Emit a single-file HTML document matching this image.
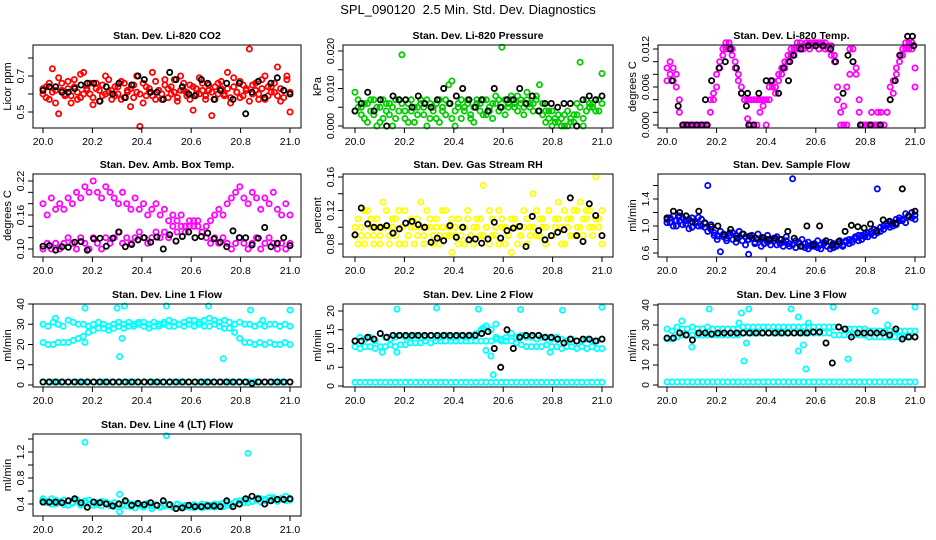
<!DOCTYPE html>
<html><head><meta charset="utf-8"><style>
html,body{margin:0;padding:0;background:#fff;}
svg{display:block;font-family:"Liberation Sans",sans-serif;}
</style></head><body>
<svg id="chart" width="936" height="540" viewBox="0 0 936 540" xmlns="http://www.w3.org/2000/svg">
<rect width="936" height="540" fill="#fff"/>
<text x="468" y="14" font-size="13" text-anchor="middle" style="white-space:pre">SPL_090120  2.5 Min. Std. Dev. Diagnostics</text>
</svg>
<script>
// ---- data ----
const xTicks = [20.0, 20.2, 20.4, 20.6, 20.8, 21.0];
const xTickLabels = ["20.0","20.2","20.4","20.6","20.8","21.0"];

const co2RedA = [0.60,0.64,0.57,0.74,0.62,0.49,0.66,0.59,0.63,0.55,0.68,0.61,0.58,0.72,0.63,0.60,0.54,0.66,0.62,0.59,0.70,0.61,0.57,0.64,0.60,0.67,0.58,0.62,0.53,0.65,0.61,0.42,0.66,0.59,0.63,0.72,0.57,0.62,0.60,0.68,0.58,0.64,0.61,0.56,0.70,0.62,0.59,0.65,0.51,0.63,0.60,0.66,0.57,0.62,0.48,0.64,0.60,0.67,0.59,0.63,0.55,0.69,0.61,0.58,0.65,0.62,0.85,0.60,0.66,0.57,0.63,0.70,0.59,0.64,0.61,0.75,0.56,0.62,0.68,0.50];
const co2RedB = [0.63,0.58,0.66,0.61,0.55,0.69,0.62,0.60,0.67,0.59,0.64,0.57,0.71,0.60,0.62,0.66,0.58,0.63,0.56,0.65,0.60,0.68,0.62,0.59,0.64,0.57,0.66,0.61,0.63,0.58,0.70,0.60,0.55,0.64,0.61,0.59,0.67,0.62,0.57,0.65,0.63,0.60,0.68,0.58,0.62,0.66,0.61,0.57,0.64,0.60,0.69,0.62,0.59,0.65,0.61,0.57,0.66,0.63,0.60,0.72,0.58,0.64,0.61,0.67,0.59,0.63,0.56,0.65,0.62,0.60,0.68,0.57,0.64,0.61,0.66,0.59,0.63,0.58,0.70,0.61];
const co2Black = [0.62,0.64,0.64,0.61,0.61,0.63,0.65,0.66,0.66,0.56,0.64,0.60,0.66,0.58,0.65,0.70,0.68,0.61,0.61,0.57,0.72,0.68,0.64,0.60,0.59,0.68,0.66,0.57,0.62,0.66,0.57,0.66,0.49,0.61,0.67,0.58,0.66,0.69,0.62,0.60];

const presGreenA = [.009,.005,.003,.006,.001,.004,.007,.000,.005,.002,.006,.003,.000,.007,.004,.019,.002,.006,.004,.001,.005,.007,.003,.000,.006,.004,.002,.007,.005,.003,.011,.012,.004,.006,.002,.005,.007,.003,.001,.006,.004,.007,.003,.005,.006,.008,.004,.021,.007,.005,.008,.006,.004,.007,.005,.009,.006,.004,.007,.011,.003,.001,.004,.000,.002,.001,.000,.003,.000,.002,.001,.003,.017,.000,.004,.006,.005,.007,.004,.014];
const presGreenB = [.004,.007,.005,.002,.006,.007,.003,.005,.001,.007,.004,.006,.005,.002,.007,.006,.004,.001,.007,.005,.003,.006,.005,.007,.002,.005,.006,.001,.004,.007,.006,.002,.000,.005,.007,.004,.006,.002,.005,.007,.006,.003,.007,.004,.002,.006,.007,.005,.003,.006,.007,.005,.008,.006,.003,.007,.005,.006,.008,.004,.006,.004,.002,.004,.001,.003,.002,.000,.004,.001,.003,.006,.005,.002,.007,.005,.006,.004,.007,.006];
const presBlack = [.004,.006,.009,.004,.007,.000,.008,.007,.007,.005,.008,.006,.005,.007,.010,.006,.008,.010,.007,.005,.007,.004,.010,.005,.007,.007,.010,.006,.008,.004,.006,.006,.005,.006,.006,.000,.007,.008,.007,.008];

const tempMagA = [.009,.010,.007,.008,.002,0,0,0,0,0,0,0,0,0,.002,.005,.006,.009,.011,.012,.013,.012,.010,.008,.006,.004,.001,0,.004,0,.004,.003,0,.004,.006,.005,.007,.008,.009,.010,.011,.011,.012,.012,.0125,.013,.013,.013,.013,.013,.0125,.013,.012,.0125,.011,.006,.002,.003,0,.008,.012,.009,.004,0,0,0,0,0,.002,0,0,.002,.004,.007,.008,.010,.012,.012,.013,.013,.009];
const tempMagB = [.007,.008,.009,.006,.004,0,0,0,0,0,0,0,0,0,.004,.004,.008,.010,.012,.013,.012,.011,.009,.007,.005,.004,.004,.004,0,.004,.002,.004,.004,.006,.007,.006,.008,.009,.010,.011,.012,.012,.013,.013,.012,.0125,.012,.0125,.013,.012,.013,.012,.0125,.011,.010,.004,0,0,.006,.012,.010,.008,.002,0,0,0,.002,0,0,.002,0,.002,.006,.005,.009,.011,.011,.013,.012,.012,.006];
const tempBlackX = [20.02,20.045,20.065,20.08,20.1,20.12,20.14,20.155,20.16,20.18,20.21,20.235,20.255,20.28,20.30,20.32,20.325,20.33,20.35,20.37,20.40,20.42,20.45,20.47,20.49,20.495,20.51,20.54,20.57,20.6,20.63,20.66,20.68,20.71,20.73,20.75,20.78,20.82,20.86,20.9,20.92,20.94,20.97,20.99,20.995];
const tempBlack = [.007,.003,0,0,0,0,0,.004,0,.007,.009,.010,.012,.009,.005,.003,.005,0,0,.005,.007,.007,.005,.009,.007,.010,.011,.012,.0125,.0125,.0125,.012,.010,.005,.011,.010,0,0,0,.004,.007,.011,.014,.014,.0125];

const boxUpper = [0.18,0.16,0.19,0.17,0.18,0.17,0.19,0.18,0.20,0.19,0.21,0.20,0.22,0.20,0.19,0.21,0.20,0.19,0.18,0.20,0.18,0.17,0.19,0.17,0.18,0.16,0.17,0.18,0.16,0.17,0.15,0.16,0.15,0.16,0.14,0.15,0.14,0.15,0.13,0.14,0.15,0.16,0.17,0.16,0.18,0.19,0.20,0.21,0.19,0.18,0.20,0.19,0.17,0.19,0.18,0.20,0.17,0.16,0.18,0.16];
const boxLower = [0.10,0.11,0.10,0.11,0.10,0.11,0.12,0.11,0.10,0.12,0.11,0.10,0.12,0.11,0.10,0.12,0.11,0.12,0.13,0.11,0.12,0.11,0.12,0.13,0.12,0.11,0.12,0.13,0.12,0.13,0.12,0.14,0.13,0.14,0.13,0.14,0.15,0.14,0.13,0.12,0.11,0.12,0.11,0.12,0.11,0.10,0.11,0.12,0.11,0.10,0.11,0.12,0.10,0.11,0.12,0.11,0.10,0.11,0.10,0.11];
const boxBlack = [.105,.106,.098,.104,.103,.112,.113,.098,.118,.119,.105,.119,.130,.104,.108,.116,.120,.112,.121,.100,.125,.114,.122,.130,.120,.122,.128,.118,.112,.104,.132,.120,.120,.107,.119,.138,.104,.110,.120,.106];

const rhYellowA = [.09,.08,.10,.12,.09,.11,.08,.10,.09,.13,.10,.08,.11,.09,.12,.10,.08,.09,.11,.10,.09,.13,.08,.10,.11,.09,.10,.08,.12,.09,.10,.07,.09,.11,.10,.08,.12,.09,.10,.11,.09,.15,.10,.08,.11,.09,.12,.10,.08,.09,.07,.11,.10,.09,.12,.08,.10,.14,.09,.11,.10,.08,.12,.09,.11,.13,.10,.08,.11,.09,.12,.10,.13,.09,.11,.12,.10,.16,.11,.08];
const rhYellowB = [.10,.11,.09,.08,.12,.10,.09,.11,.08,.10,.12,.09,.10,.11,.08,.10,.12,.09,.10,.08,.11,.10,.09,.12,.10,.08,.11,.09,.10,.12,.09,.11,.10,.08,.09,.10,.11,.09,.08,.10,.11,.09,.10,.12,.09,.10,.08,.11,.10,.09,.11,.10,.08,.09,.10,.11,.09,.10,.12,.09,.11,.10,.12,.09,.10,.11,.08,.12,.10,.11,.09,.12,.10,.11,.12,.10,.09,.11,.10,.12];
const rhBlack = [.091,.123,.104,.100,.100,.102,.093,.098,.105,.107,.103,.100,.082,.087,.084,.102,.088,.100,.085,.086,.081,.086,.106,.087,.096,.099,.101,.077,.113,.096,.085,.090,.094,.097,.135,.090,.083,.128,.114,.090];

const flowBlueA = [1.10,1.05,1.15,1.00,1.08,1.12,1.03,1.10,0.98,1.06,1.13,1.00,1.05,1.60,0.95,0.90,0.85,0.62,0.88,0.82,0.90,0.80,0.86,0.92,0.78,0.84,0.58,0.82,0.76,0.88,0.80,0.74,0.86,0.78,0.82,0.72,0.80,0.76,0.84,0.70,1.70,0.78,0.74,0.80,0.68,0.76,0.72,0.70,0.78,0.66,0.74,0.70,0.76,0.68,0.72,0.74,0.70,0.78,0.74,0.80,0.82,0.78,0.86,0.84,0.90,0.88,0.86,1.55,0.92,0.95,1.00,0.98,1.05,1.02,1.08,1.10,1.05,1.15,1.12,1.10];
const flowBlueB = [1.05,1.12,1.00,1.08,1.15,1.02,1.08,0.96,1.12,1.04,1.00,1.10,0.98,0.92,1.02,0.86,0.80,0.92,0.84,0.78,0.86,0.90,0.76,0.84,0.88,0.72,0.80,0.86,0.74,0.80,0.70,0.82,0.76,0.72,0.78,0.84,0.74,0.70,0.78,0.74,0.72,0.68,0.76,0.70,0.74,0.66,0.70,0.74,0.68,0.72,0.76,0.70,0.66,0.74,0.70,0.78,0.72,0.76,0.80,0.76,0.84,0.86,0.80,0.88,0.84,0.92,0.95,0.90,0.98,1.00,1.04,1.06,1.00,1.10,1.12,1.08,1.18,1.14,1.20,1.16];
const flowBlack = [1.12,1.22,1.20,1.15,1.06,1.22,1.04,0.99,1.00,0.87,0.95,0.82,0.88,0.85,0.82,0.83,0.80,0.82,0.80,0.92,0.82,0.70,1.00,0.72,1.00,0.78,0.72,0.77,0.92,1.01,0.99,0.97,1.03,0.93,1.09,1.07,1.04,1.55,1.15,1.22];

const l1Upper = [30,29,31,30,29,32,31,30,30,29,30,31,30,29,30,31,30,31,30,31,31,30,31,30,31,32,31,30,31,32,32,31,32,33,32,31,32,31,30,31,30,30,29,30,29,30,30,29,30,29];
const l1Lower = [21,20,20,21,21,21,22,23,24,26,27,28,28,27,28,29,28,29,29,30,29,28,29,29,30,29,29,30,29,30,29,30,29,29,30,29,28,28,26,23,21,21,20,21,20,21,20,20,21,20];
const l1Base = [1.5,1.5,1.5,1.5,1.5,1.5,1.5,1.5,1.5,1.5,1.5,1.5,1.5,1.5,1.5,1.5,1.5,1.5,1.5,1.5,1.5,1.5,1.5,1.5,1.5,1.5,1.5,1.5,1.5,1.5,1.5,1.5,1.5,1.5,1.5,1.5,1.5,1.5,1.5,1.5,1.5,1.5,1.5,1.5,1.5,1.5,1.5,1.5,1.5,1.5];
const l1OutX = [20.05,20.17,20.17,20.30,20.31,20.32,20.33,20.50,20.67,20.73,20.84,20.89,21.0];
const l1OutY = [33,38,21,38,14,23,39,39,39,13,37,32,37];
const l1Black = [1.5,1.5,1.5,1.5,1.5,1.5,1.5,1.5,1.5,1.5,1.5,1.5,1.5,1.5,1.5,1.5,1.5,1.5,1.5,1.5,1.5,1.5,1.5,1.5,1.5,1.5,1.5,1.5,1.5,1.5,1.5,1.5,1.5,0.8,1.5,1.5,1.5,1.5,1.5,1.5];

const l2Upper = [12,13,12.5,13,12,14,13,12.5,13,13.5,13,13,13.5,13,13,13.5,13,13,13.5,13,13,13.5,13,13.5,14,15,16,15,13,12,13,14,13,13.5,13,13,12.5,13,13,12.5,13,12.5,12,12.5,12,12,12.5,12,12,12.5];
const l2Lower = [10.5,10,10.5,10.5,10,10.5,10.5,11,10.5,11,11,11.5,11.5,11.5,12,11.5,12,12,12,12,12,12,12,12,12,12,12,12,12.5,12.5,12,12,11.5,11,10.5,10.5,10.5,10.5,11,10.5,10.5,10,10.5,10.5,10,10.5,10,10.5,10,10];
const l2Base = [1,1,1,1,1,1,1,1,1,1,1,1,1,1,1,1,1,1,1,1,1,1,1,1,1,1,1,1,1,1,1,1,1,1,1,1,1,1,1,1,1,1,1,1,1,1,1,1,1,1];
const l2OutX = [20.17,20.17,20.11,20.33,20.50,20.52,20.53,20.55,20.56,20.57,20.67,20.79,20.84,21.0];
const l2OutY = [20.5,9,9,20.8,20.5,15.5,9.5,8,3,16.5,20.4,9,20.2,21];
const l2Black = [12,12,13,12.5,14,13,13.5,13.5,13.5,13.5,13.5,13.5,13.5,13.5,13.5,13.5,13.5,13.5,13.5,13.5,14,14.5,10,5,15,10,13,13.5,13.5,13.5,13,13,12.5,11.5,12.5,12,12.5,12.5,12,12.5];

const l3Upper = [28,27,29,28,28,29,28,28,29,28,28,28,28,28,28,29,29,29,29,29,29,29,29,29,29,29,29,29,29,29,29,29,29,29,29,28,28,28,28,28,27,27,27,27,27,27,27,27,27,27];
const l3Lower = [23,23,24,25,25,25,25,25,25,25,25,25,25,25,25,26,26,26,26,26,26,26,26,26,26,26,26,26,26,26,26,26,26,25,25,25,25,25,25,25,24,24,24,24,24,24,24,24,24,24];
const l3Base = [1.5,1.5,1.5,1.5,1.5,1.5,1.5,1.5,1.5,1.5,1.5,1.5,1.5,1.5,1.5,1.5,1.5,1.5,1.5,1.5,1.5,1.5,1.5,1.5,1.5,1.5,1.5,1.5,1.5,1.5,1.5,1.5,1.5,1.5,1.5,1.5,1.5,1.5,1.5,1.5,1.5,1.5,1.5,1.5,1.5,1.5,1.5,1.5,1.5,1.5];
const l3OutX = [20.06,20.10,20.17,20.29,20.30,20.31,20.32,20.33,20.50,20.53,20.53,20.55,20.56,20.57,20.67,20.73,20.84,20.89,21.0];
const l3OutY = [32,19,38,31,36,12,21,38,38,34,17,20,8,31,39,13,37,30,39];
const l3Black = [23.5,23.5,26,25,22.5,26,26,25.5,26,26,26,26,26,26,26,26,26,26,26,26,26,26,26,26.5,26.5,21,11,29,28,24,26,26,26,26,26,25,28,23,24,24];

const l4CyanA = [.45,.42,.48,.40,.44,.46,.38,.43,.47,.41,.45,.40,.43,.39,.44,.41,.37,.42,.40,.38,.43,.36,.40,.38,.35,.41,.37,.39,.36,.40,.38,.35,.39,.37,.36,.38,.34,.37,.40,.36,.38,.35,.39,.41,.38,.40,.43,.45,.42,.47,.44,.46,.48,.45,.50,.47,.46,.49,.45,.48];
const l4CyanB = [.48,.44,.40,.46,.42,.39,.45,.41,.44,.38,.42,.46,.38,.42,.37,.43,.40,.36,.41,.39,.37,.40,.34,.39,.37,.40,.33,.38,.35,.37,.39,.36,.40,.34,.38,.35,.39,.37,.34,.39,.36,.40,.37,.36,.42,.39,.44,.40,.46,.42,.44,.49,.43,.47,.45,.50,.44,.48,.52,.46];
const l4OutX = [20.17,20.50,20.83,20.31,20.31];
const l4OutY = [1.35,1.45,1.18,0.55,0.28];
const l4Black = [.43,.43,.43,.42,.45,.48,.42,.35,.43,.42,.40,.37,.40,.45,.38,.41,.39,.42,.38,.45,.39,.33,.34,.38,.36,.36,.37,.37,.36,.45,.36,.40,.48,.52,.48,.40,.45,.47,.47,.48];

// ---- layout ----
const NS = "http://www.w3.org/2000/svg";
const svg = document.getElementById("chart");
const cols = [{L:33,R:301,x0:43,x1:290},{L:343,R:613,x0:355,x1:602},{L:658,R:925,x0:667,x1:915}];
const rows = [{T:45,B:128},{T:174,B:257},{T:304,B:387},{T:434,B:516}];
function uni(n){const a=[];for(let i=0;i<n;i++)a.push(20+i/(n-1));return a;}
function mk(tag,attrs,parent){const e=document.createElementNS(NS,tag);for(const k in attrs)e.setAttribute(k,attrs[k]);(parent||svg).appendChild(e);return e;}

const panels = [
 {key:"co2",title:"Stan. Dev. Li-820 CO2",ylab:"Licor ppm",c:0,r:0,v0:0.5,p0:112,v1:0.7,p1:76,ticks:[0.5,0.6,0.7,0.8],labs:{"0.5":"0.5","0.7":"0.7"},
  series:[["#ff0000",null,co2RedA],["#ff0000",null,co2RedB],["#000",null,co2Black]]},
 {key:"pressure",title:"Stan. Dev. Li-820 Pressure",ylab:"kPa",c:1,r:0,v0:0,p0:126,v1:0.02,p1:51,ticks:[0,0.005,0.01,0.015,0.02],labs:{"0":"0.000","0.01":"0.010","0.02":"0.020"},
  series:[["#00cd00",null,presGreenA],["#00cd00",null,presGreenB],["#000",null,presBlack]]},
 {key:"temp",title:"Stan. Dev. Li-820 Temp.",ylab:"degrees C",c:2,r:0,v0:0,p0:125,v1:0.012,p1:49,ticks:[0,0.002,0.004,0.006,0.008,0.01,0.012],labs:{"0":"0.000","0.006":"0.006","0.012":"0.012"},
  series:[["#ff00ff",null,tempMagA],["#ff00ff",null,tempMagB],["#000",tempBlackX,tempBlack]]},
 {key:"boxtemp",title:"Stan. Dev. Amb. Box Temp.",ylab:"degrees C",c:0,r:1,v0:0.10,p0:249,v1:0.22,p1:181,ticks:[0.10,0.12,0.14,0.16,0.18,0.20,0.22],labs:{"0.1":"0.10","0.16":"0.16","0.22":"0.22"},
  series:[["#ff00ff",null,boxUpper],["#ff00ff",null,boxLower],["#000",null,boxBlack]]},
 {key:"rh",title:"Stan. Dev. Gas Stream RH",ylab:"percent",c:1,r:1,v0:0.08,p0:244,v1:0.16,p1:177,ticks:[0.08,0.10,0.12,0.14,0.16],labs:{"0.08":"0.08","0.12":"0.12","0.16":"0.16"},
  series:[["#ffff00",null,rhYellowA],["#ffff00",null,rhYellowB],["#000",null,rhBlack]]},
 {key:"sampleflow",title:"Stan. Dev. Sample Flow",ylab:"ml/min",c:2,r:1,v0:0.6,p0:253,v1:1.4,p1:199,ticks:[0.6,0.8,1.0,1.2,1.4,1.6],labs:{"0.6":"0.6","1":"1.0","1.4":"1.4"},
  series:[["#0000ff",null,flowBlueA],["#0000ff",null,flowBlueB],["#000",null,flowBlack]]},
 {key:"line1",title:"Stan. Dev. Line 1 Flow",ylab:"ml/min",c:0,r:2,v0:0,p0:385,v1:40,p1:304,ticks:[0,10,20,30,40],labs:{"0":"0","10":"10","20":"20","30":"30","40":"40"},
  series:[["#00ffff",null,l1Upper],["#00ffff",null,l1Lower],["#00ffff",null,l1Base],["#00ffff",l1OutX,l1OutY],["#000",null,l1Black]]},
 {key:"line2",title:"Stan. Dev. Line 2 Flow",ylab:"ml/min",c:1,r:2,v0:0,p0:386,v1:20,p1:311,ticks:[0,5,10,15,20],labs:{"0":"0","5":"5","10":"10","15":"15","20":"20"},
  series:[["#00ffff",null,l2Upper],["#00ffff",null,l2Lower],["#00ffff",null,l2Base],["#00ffff",l2OutX,l2OutY],["#000",null,l2Black]]},
 {key:"line3",title:"Stan. Dev. Line 3 Flow",ylab:"ml/min",c:2,r:2,v0:0,p0:385,v1:40,p1:305,ticks:[0,10,20,30,40],labs:{"0":"0","10":"10","20":"20","30":"30","40":"40"},
  series:[["#00ffff",null,l3Upper],["#00ffff",null,l3Lower],["#00ffff",null,l3Base],["#00ffff",l3OutX,l3OutY],["#000",null,l3Black]]},
 {key:"line4",title:"Stan. Dev. Line 4 (LT) Flow",ylab:"ml/min",c:0,r:3,v0:0.4,p0:504,v1:1.2,p1:452,ticks:[0.4,0.6,0.8,1.0,1.2,1.4],labs:{"0.4":"0.4","0.8":"0.8","1.2":"1.2"},
  series:[["#00ffff",null,l4CyanA],["#00ffff",null,l4CyanB],["#00ffff",l4OutX,l4OutY],["#000",null,l4Black]]}
];

panels.forEach(p=>{
  const C=cols[p.c], R=rows[p.r];
  const g=mk("g",{});
  
  
  const xs=v=>C.x0+(v-20)*(C.x1-C.x0);
  const ys=v=>p.p0+(v-p.v0)*(p.p1-p.p0)/(p.v1-p.v0);
  const t=mk("text",{x:(C.L+C.R)/2,y:R.T-6,"font-size":"10.5","font-weight":"bold","text-anchor":"middle"},g);
  t.textContent=p.title;
  
  
  const pg=mk("g",{fill:"none","stroke-width":"1.8"},g);
  
  
  p.series.forEach(s=>{
    const col=s[0], yv=s[2], xv=s[1]||uni(yv.length);
    yv.forEach((v,i)=>{
      const c=mk("circle",{cx:xs(xv[i]).toFixed(1),cy:ys(v).toFixed(1),r:"2.6",stroke:col,"vector-effect":"non-scaling-stroke"},pg);
      
      
    });
  });
  const fr=mk("rect",{x:C.L,y:R.T,width:C.R-C.L,height:R.B-R.T,fill:"none",stroke:"#000","stroke-width":"1"},g);
  
  
  xTicks.forEach((v,i)=>{
    mk("line",{x1:xs(v),x2:xs(v),y1:R.B,y2:R.B+5,stroke:"#000"},g);
    const tl=mk("text",{x:xs(v),y:R.B+17,"font-size":"10.5","text-anchor":"middle"},g);
    tl.textContent=xTickLabels[i];
    
    
  });
  p.ticks.forEach(v=>{
    const y=ys(v); if(y<R.T-1||y>R.B+1) return;
    mk("line",{x1:C.L-5,x2:C.L,y1:y,y2:y,stroke:"#000"},g);
    const key=String(+v.toFixed(4));
    if(p.labs[key]!==undefined){
      const tl=mk("text",{x:C.L-9,y:y,"font-size":"10.5","text-anchor":"middle",transform:`rotate(-90 ${C.L-9} ${y})`},g);
      tl.textContent=p.labs[key];
      
      
    }
  });
  const yl=mk("text",{x:C.L-22,y:(R.T+R.B)/2,"font-size":"11","text-anchor":"middle",transform:`rotate(-90 ${C.L-22} ${(R.T+R.B)/2})`},g);
  yl.textContent=p.ylab;
  
  
});
</script>
</body></html>
